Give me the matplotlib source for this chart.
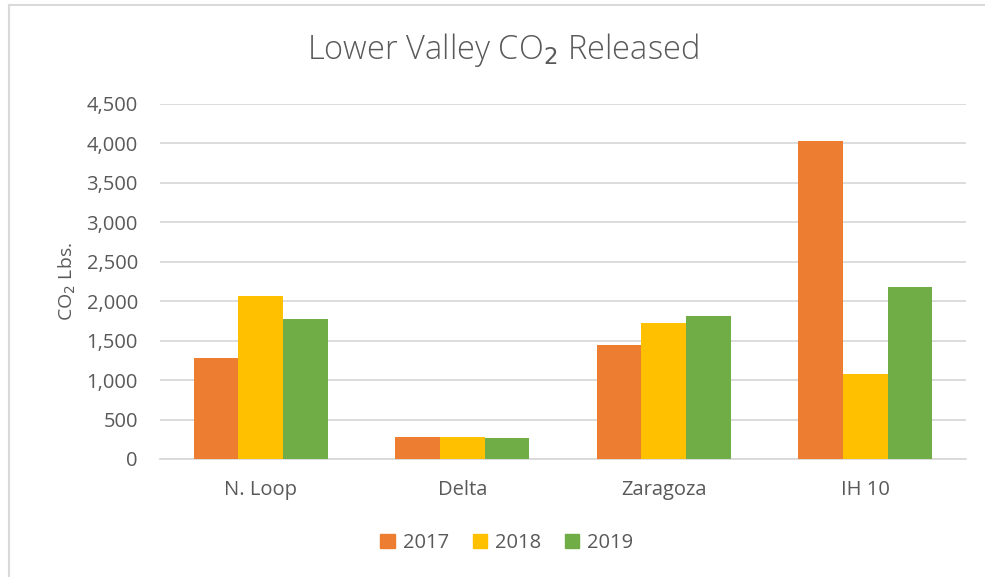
import matplotlib.pyplot as plt
import numpy as np
from matplotlib.lines import Line2D

categories = ["N. Loop", "Delta", "Zaragoza", "IH 10"]
years = ["2017", "2018", "2019"]
v2017 = [1280, 275, 1440, 4035]
v2018 = [2060, 277, 1722, 1075]
v2019 = [1778, 262, 1811, 2185]
yticks = [0, 500, 1000, 1500, 2000, 2500, 3000, 3500, 4000, 4500]

colors = ["#ED7D31", "#FFC000", "#70AD47"]
text_color = "#595959"
grid_color = "#D9D9D9"

plt.rcParams['font.family'] = ['Open Sans', 'DejaVu Sans']

fig = plt.figure(figsize=(9.85, 5.77), dpi=100)
ax = fig.add_axes([160/985, 1 - 459/577, (966-160)/985, (459-104)/577])

x = np.arange(len(categories))
w = 0.222
for i, (vals, c, lab) in enumerate(zip([v2017, v2018, v2019], colors, years)):
    ax.bar(x + (i - 1) * w, vals, width=w, color=c, label=lab, zorder=3)

ax.set_xlim(-0.5, len(categories) - 0.5)
ax.set_ylim(0, 4500)
ax.set_yticks(yticks)
ax.set_yticklabels([f"{v:,}" for v in yticks])
ax.set_xticks(x)
ax.set_xticklabels(categories)
ax.yaxis.grid(True, color=grid_color, linewidth=1.3, zorder=0)
ax.set_axisbelow(True)
for s in ["top", "right", "left"]:
    ax.spines[s].set_visible(False)
ax.spines["bottom"].set_color(grid_color)
ax.spines["bottom"].set_linewidth(1.3)
ax.tick_params(axis="both", length=0, colors=text_color, labelsize=14.5)
ax.tick_params(axis="y", pad=16)
ax.tick_params(axis="x", pad=15)

ax.set_ylabel("CO$_2$ Lbs.", color=text_color, fontsize=14, labelpad=6)

fig.text(0.51, 1 - 50/577, "Lower Valley CO$_2$ Released", ha="center", va="center",
         fontsize=23.5, color=text_color, fontweight="light")

handles = [plt.Rectangle((0, 0), 1, 1, color=c) for c in colors]
leg = fig.legend(handles, years, loc="center", bbox_to_anchor=(507/985, 1 - 543/577),
                 ncol=3, frameon=False, fontsize=14.5, handlelength=0.7, handleheight=0.7,
                 columnspacing=1.2, handletextpad=0.4)
for t in leg.get_texts():
    t.set_color(text_color)

fig.add_artist(Line2D([9/985, 9/985], [0, 1 - 5/577], transform=fig.transFigure, color=grid_color, linewidth=1.5))
fig.add_artist(Line2D([9/985, 1], [1 - 5/577, 1 - 5/577], transform=fig.transFigure, color=grid_color, linewidth=1.5))

fig.savefig("out.png", dpi=100)
